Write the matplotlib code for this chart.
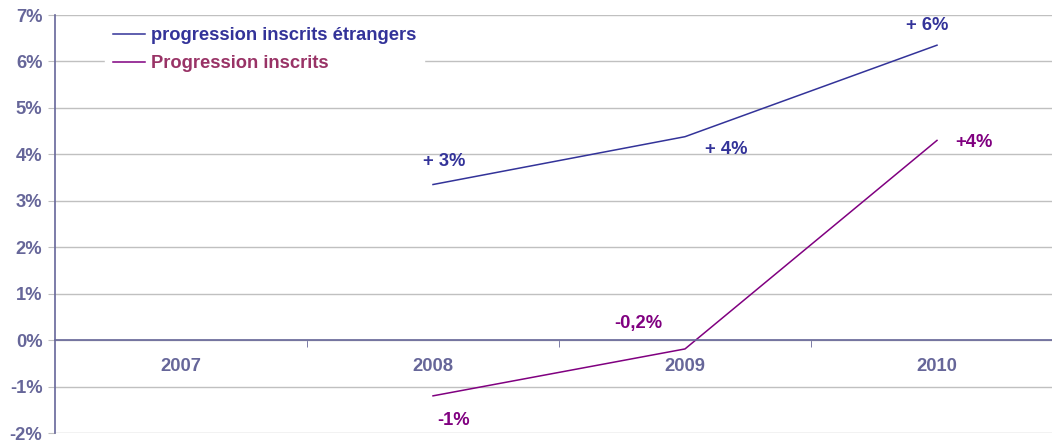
import numpy as np
import matplotlib.pyplot as plt

plt.rcParams['font.family'] = ['Liberation Sans', 'DejaVu Sans']

annees = ['2007', '2008', '2009', '2010']
etrangers = [np.nan, 3.35, 4.38, 6.35]
inscrits = [np.nan, -1.2, -0.19, 4.3]
lab_etr = ['', '+ 3%', '+ 4%', '+ 6%']
lab_ins = ['', '-1%', '-0,2%', '+4%']

c_etr = '#333399'
c_ins = '#800080'
c_leg2 = '#993366'
c_axe = '#666699'
c_grid = '#c0c0c0'
fs = 13.2

fig = plt.figure(figsize=(10.52, 4.42), dpi=100)
ax = fig.add_axes([55/1052, 1-433/442, 1008/1052, 418/442])

x = np.arange(len(annees))
ax.plot(x, etrangers, color=c_etr, lw=1.1, label='progression inscrits étrangers')
ax.plot(x, inscrits, color=c_ins, lw=1.1, label='Progression inscrits')

ax.set_xlim(-0.5, 3.5)
ax.set_ylim(-2, 7)

# grille horizontale
ax.set_yticks(range(-2, 8))
ax.set_yticklabels([f'{v}%' for v in range(-2, 8)])
ax.grid(axis='y', color=c_grid, lw=1)
ax.set_axisbelow(True)

for s in ['top', 'right']:
    ax.spines[s].set_visible(False)
ax.spines['bottom'].set_position(('data', 0))
ax.spines['bottom'].set_color(c_axe)
ax.spines['left'].set_color(c_axe)
ax.spines['bottom'].set_linewidth(1.2)
ax.spines['left'].set_linewidth(1.2)

ax.set_xticks(x)
ax.set_xticklabels(annees)
ax.set_xticks([0.5, 1.5, 2.5], minor=True)
ax.tick_params(axis='x', which='major', length=0, pad=13,
               labelcolor=c_axe, labelsize=fs)
ax.tick_params(axis='x', which='minor', length=5, color=c_axe, direction='out')
ax.tick_params(axis='y', length=5, color=c_grid, labelcolor=c_axe,
               labelsize=fs, pad=4)
for t in ax.get_xticklabels() + ax.get_yticklabels():
    t.set_fontweight('bold')

# etiquettes de valeurs (decalages en pixels)
off_etr = [None, (11, 23), (41, -13), (-10, 20)]
off_ins = [None, (21, -25), (-47, 25), (37, -2)]
for i in range(1, 4):
    ax.annotate(lab_etr[i], (x[i], etrangers[i]), xytext=off_etr[i],
                textcoords='offset pixels', ha='center', va='center',
                color=c_etr, fontsize=fs, fontweight='bold')
    ax.annotate(lab_ins[i], (x[i], inscrits[i]), xytext=off_ins[i],
                textcoords='offset pixels', ha='center', va='center',
                color=c_ins, fontsize=fs, fontweight='bold')

leg = ax.legend(loc='upper left', bbox_to_anchor=(41/1008, 1.01), frameon=True,
                fancybox=False, edgecolor='white', framealpha=1,
                handlelength=1.75, handletextpad=0.35, borderpad=0.4,
                labelspacing=0.6, prop={'size': fs, 'weight': 'bold'})
leg.get_texts()[0].set_color(c_etr)
leg.get_texts()[1].set_color(c_leg2)

fig.savefig('out.png', dpi=100)
